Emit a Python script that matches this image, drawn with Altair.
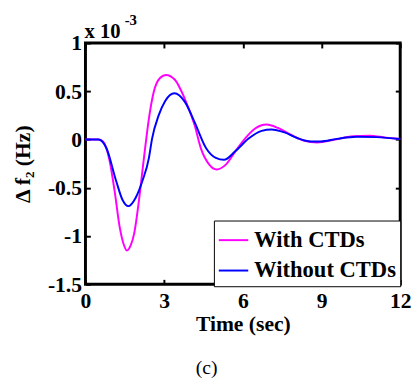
import altair as alt
import pandas as pd

# values in units of 1e-3 Hz
t_with = [0, 0.5, 0.67, 0.92, 1.11, 1.3, 1.45, 1.58, 1.72, 1.86, 2.04, 2.23, 2.42, 2.6, 2.85, 3.07,
          3.41, 3.79, 4.16, 4.41, 4.72, 5.0, 5.35, 5.72, 6.09, 6.47, 6.9, 7.34, 7.84, 8.34, 8.84,
          9.46, 10.2, 10.83, 11.45, 12]
v_with = [0, 0, -0.02, -0.22, -0.53, -0.9, -1.08, -1.15, -1.1, -0.97, -0.63, -0.19, 0.22, 0.49, 0.64, 0.67,
          0.62, 0.42, 0.15, -0.10, -0.26, -0.31, -0.26, -0.12, 0.013, 0.115, 0.156, 0.12, 0.047, -0.013, -0.03,
          -0.003, 0.034, 0.04, 0.02, 0.005]
t_without = [0, 0.49, 0.8, 1.17, 1.42, 1.63, 1.92, 2.17, 2.42, 2.54, 2.79, 3.04, 3.39, 3.79, 4.16, 4.6,
             4.97, 5.28, 5.72, 6.22, 6.72, 7.09, 7.59, 8.09, 8.59, 8.96, 9.58, 10.33, 11.1, 12]
v_without = [0, 0, -0.09, -0.43, -0.63, -0.69, -0.6, -0.43, -0.19, 0.01, 0.25, 0.40, 0.48, 0.39, 0.18, -0.09,
             -0.19, -0.21, -0.12, 0.01, 0.09, 0.105, 0.074, 0.013, -0.02, -0.02, 0.007, 0.03, 0.025, 0.005]
series = ["With CTDs", "Without CTDs"]
colors = ["#FF00FF", "#0000FF"]
x_ticks = [0, 3, 6, 9, 12]
y_ticks = [-1.5, -1, -0.5, 0, 0.5, 1]

df = pd.concat([
    pd.DataFrame({"t": t_with, "v": v_with, "s": series[0]}),
    pd.DataFrame({"t": t_without, "v": v_without, "s": series[1]}),
])

FONT = "Liberation Serif, Times New Roman, serif"
xs = alt.Scale(domain=[0, 12], nice=False, zero=False)
ys = alt.Scale(domain=[-1.5, 1], nice=False, zero=False)

base_axis = dict(domain=False, tickColor="black", tickWidth=2, tickSize=5, offset=-5,
                 labelFont=FONT, labelFontSize=22, labelFontWeight="bold", labelColor="black",
                 titleFont=FONT, titleFontSize=22, titleFontWeight="bold", titleColor="black",
                 grid=False, labelFlush=False, labelOverlap=False)

lines = alt.Chart(df).mark_line(strokeWidth=2, interpolate="monotone").encode(
    x=alt.X("t:Q", scale=xs, axis=alt.Axis(values=x_ticks, title="Time (sec)", labelPadding=7,
                                           titlePadding=2, labelExpr="'' + datum.value", **base_axis)),
    y=alt.Y("v:Q", scale=ys, axis=alt.Axis(values=y_ticks, title="Δ f₂ (Hz)", labelPadding=4,
                                           titlePadding=13, labelExpr="'' + datum.value", **base_axis)),
    color=alt.Color("s:N", scale=alt.Scale(domain=series, range=colors),
                    legend=alt.Legend(title=None, orient="none", legendX=131, legendY=181,
                                      symbolType="stroke", symbolSize=900, symbolStrokeWidth=2,
                                      labelFont=FONT, labelFontSize=23, labelFontWeight="bold",
                                      labelColor="black", strokeColor="black", fillColor="white",
                                      padding=4, rowPadding=3, labelOffset=5)),
)

frame_axis = dict(domain=False, tickColor="black", tickWidth=2, tickSize=5, offset=-5,
                  labels=False, title=None, grid=False)
ghost = alt.Chart(df).mark_line(opacity=0).encode(
    x=alt.X("t:Q", scale=xs, axis=alt.Axis(orient="top", values=x_ticks, **frame_axis)),
    y=alt.Y("v:Q", scale=ys, axis=alt.Axis(orient="right", values=y_ticks, **frame_axis)),
)

ann1 = alt.Chart(pd.DataFrame({"txt": ["x 10"]})).mark_text(
    font=FONT, fontSize=21, fontWeight="bold", align="left", baseline="alphabetic", color="black"
).encode(x=alt.value(-1), y=alt.value(-5), text="txt:N")
ann2 = alt.Chart(pd.DataFrame({"txt": ["-3"]})).mark_text(
    font=FONT, fontSize=15, fontWeight="bold", align="left", baseline="alphabetic", color="black"
).encode(x=alt.value(40), y=alt.value(-18), text="txt:N")

chart = alt.layer(lines, ghost, ann1, ann2).resolve_axis(x="independent", y="independent").properties(
    width=321, height=246,
    autosize=alt.AutoSizeParams(type="none"),
    padding={"left": 79, "top": 32, "right": 11, "bottom": 100},
    background="white",
    title=alt.TitleParams("(c)", orient="bottom", font=FONT, fontSize=20, fontWeight="normal",
                          color="black", offset=25, dx=-37),
).configure_view(stroke="#000000", strokeWidth=3)

chart.save("out.html", embed_options={"renderer": "svg", "actions": False})
